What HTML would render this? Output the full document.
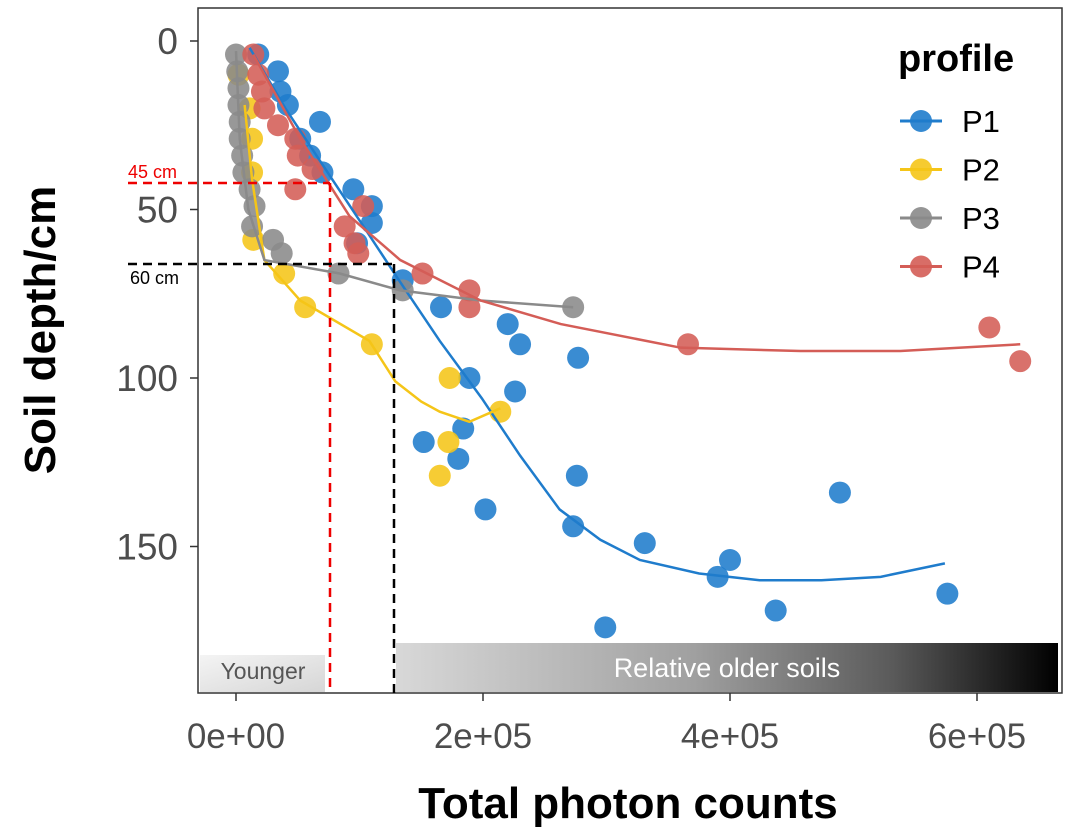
<!DOCTYPE html>
<html><head><meta charset="utf-8"><style>
body{margin:0;background:#fff;}
svg{display:block;font-family:"Liberation Sans",Arial,sans-serif;}
</style></head><body>
<svg id="chart" width="1073" height="836" viewBox="0 0 1073 836">
<defs>
<linearGradient id="og" x1="0" x2="1" y1="0" y2="0">
<stop offset="0" stop-color="#d8d8d8"/><stop offset="0.45" stop-color="#a0a0a0"/><stop offset="0.75" stop-color="#5a5a5a"/><stop offset="1" stop-color="#000"/>
</linearGradient>
<linearGradient id="yg" x1="0" x2="1" y1="0" y2="1">
<stop offset="0" stop-color="#f4f4f4"/><stop offset="1" stop-color="#d6d6d6"/>
</linearGradient>
</defs>
<rect x="198" y="8" width="864" height="685" fill="#fff" stroke="#333" stroke-width="1.5"/>
<rect x="396" y="643" width="662" height="49" fill="url(#og)"/>
<text x="727" y="677" font-size="27" fill="#fff" text-anchor="middle">Relative older soils</text>
<rect x="200" y="655" width="125" height="37" fill="url(#yg)"/>
<text x="263" y="679" font-size="23" fill="#555" text-anchor="middle">Younger</text>
<g id="marks"></g>
<line x1="128" y1="183" x2="330" y2="183" stroke="#e00" stroke-width="2.5" stroke-dasharray="9,6"/>
<line x1="330" y1="183" x2="330" y2="693" stroke="#e00" stroke-width="2.5" stroke-dasharray="9,6"/>
<text x="128" y="178" font-size="18" fill="#e00">45 cm</text>
<line x1="128" y1="264" x2="396" y2="264" stroke="#000" stroke-width="2.5" stroke-dasharray="9,6"/>
<line x1="394" y1="264" x2="394" y2="693" stroke="#000" stroke-width="2.5" stroke-dasharray="9,6"/>
<text x="130" y="284" font-size="18" fill="#000">60 cm</text>
<g id="axes"></g>
<text x="628" y="818" font-size="44" font-weight="bold" text-anchor="middle" fill="#000">Total photon counts</text>
<text transform="translate(55,330) rotate(-90)" font-size="44" font-weight="bold" text-anchor="middle" fill="#000">Soil depth/cm</text>
<g id="legend"></g>
</svg>
<script>
const NS="http://www.w3.org/2000/svg";
const series=["P1","P2","P3","P4"];
const colors=["#1f7ccc","#f5c518","#8a8a8a","#d45d57"];
const p1x=[18,34,36,42,68,52,60,70,95,110,110,98,135,166,220,230,277,189,226,152,180,184,202,276,273,331,390,400,437,489,576,299];
const p1y=[4,9,15,19,24,29,34,39,44,49,54,60,71,79,84,90,94,100,104,119,124,115,139,129,144,149,159,154,169,134,164,174];
const p2x=[2,11,13,13,14,39,56,110,173,214,172,165];
const p2y=[10,20,29,39,59,69,79,90,100,110,119,129];
const p3x=[0,1,2,2,3,3,5,6,11,15,13,30,37,83,135,273];
const p3y=[4,9,14,19,24,29,34,39,44,49,55,59,63,69,74,79];
const p4x=[14,18,21,23,34,48,50,62,48,103,88,96,99,151,189,189,366,610,635];
const p4y=[4,10,15,20,25,29,34,38,44,49,55,60,63,69,74,79,90,85,95];
const f1x=[11,40,76,105,132,165,199,230,262,295,327,375,424,474,522,574];
const f1y=[2,20,40,56,71,89,106,123,139,148,154,158,160,160,159,155];
const f2x=[7,13,23,52,108,129,150,165,189,214];
const f2y=[19,41,65,77,89,101,107,110,113,109];
const f3x=[0,3,10,23,84,133,198,273];
const f3y=[3,29,50,65,69,74,77,79];
const f4x=[14,52,92,133,198,263,360,457,538,635];
const f4y=[4,29,52,65,77,84,91,92,92,90];
const xTicks=[0,200,400,600];
const xTickLabels=["0e+00","2e+05","4e+05","6e+05"];
const yTicks=[0,50,100,150];
const yTickLabels=["0","50","100","150"];
const xs=v=>236+v*247/200;
const ys=v=>41+v*168.5/50;
const marks=document.getElementById('marks');
const PX=[p1x,p2x,p3x,p4x],PY=[p1y,p2y,p3y,p4y],FX=[f1x,f2x,f3x,f4x],FY=[f1y,f2y,f3y,f4y];
for(let s=0;s<4;s++){
  for(let i=0;i<PX[s].length;i++){
    const c=document.createElementNS(NS,'circle');
    c.setAttribute('cx',xs(PX[s][i]));c.setAttribute('cy',ys(PY[s][i]));c.setAttribute('r',11);
    c.setAttribute('fill',colors[s]);c.setAttribute('fill-opacity','0.88');
    
    
    marks.appendChild(c);
  }
}
for(let s=0;s<4;s++){
  const p=document.createElementNS(NS,'polyline');
  p.setAttribute('points',FX[s].map((v,i)=>xs(v)+','+ys(FY[s][i])).join(' '));
  p.setAttribute('fill','none');p.setAttribute('stroke',colors[s]);p.setAttribute('stroke-width','2.5');
  
  
  marks.appendChild(p);
}
const axes=document.getElementById('axes');
xTicks.forEach((v,i)=>{
  const l=document.createElementNS(NS,'line');
  l.setAttribute('x1',xs(v));l.setAttribute('x2',xs(v));l.setAttribute('y1',693);l.setAttribute('y2',701);
  l.setAttribute('stroke','#333');l.setAttribute('stroke-width','1.5');
  
  
  axes.appendChild(l);
  const t=document.createElementNS(NS,'text');
  t.setAttribute('x',xs(v));t.setAttribute('y',748);t.setAttribute('font-size','35');t.setAttribute('fill','#4d4d4d');t.setAttribute('text-anchor','middle');
  t.textContent=xTickLabels[i];
  
  
  axes.appendChild(t);
});
yTicks.forEach((v,i)=>{
  const l=document.createElementNS(NS,'line');
  l.setAttribute('x1',190);l.setAttribute('x2',198);l.setAttribute('y1',ys(v));l.setAttribute('y2',ys(v));
  l.setAttribute('stroke','#333');l.setAttribute('stroke-width','1.5');
  
  
  axes.appendChild(l);
  const t=document.createElementNS(NS,'text');
  t.setAttribute('x',178);t.setAttribute('y',ys(v)+13);t.setAttribute('font-size','37');t.setAttribute('fill','#4d4d4d');t.setAttribute('text-anchor','end');
  t.textContent=yTickLabels[i];
  
  
  axes.appendChild(t);
});
const lg=document.getElementById('legend');
const lt=document.createElementNS(NS,'text');
lt.setAttribute('x',898);lt.setAttribute('y',71);lt.setAttribute('font-size','38');lt.setAttribute('font-weight','bold');
lt.textContent='profile';


lg.appendChild(lt);
series.forEach((s,i)=>{
  const y=121+i*48.5;
  const g=document.createElementNS(NS,'g');
  
  
  g.innerHTML=`<line x1="900" x2="942" y1="${y}" y2="${y}" stroke="${colors[i]}" stroke-width="3"/><circle cx="921" cy="${y}" r="11" fill="${colors[i]}" fill-opacity="0.9"/><text x="962" y="${y+11}" font-size="31" fill="#000">${s}</text>`;
  lg.appendChild(g);
});
</script>
</body></html>
